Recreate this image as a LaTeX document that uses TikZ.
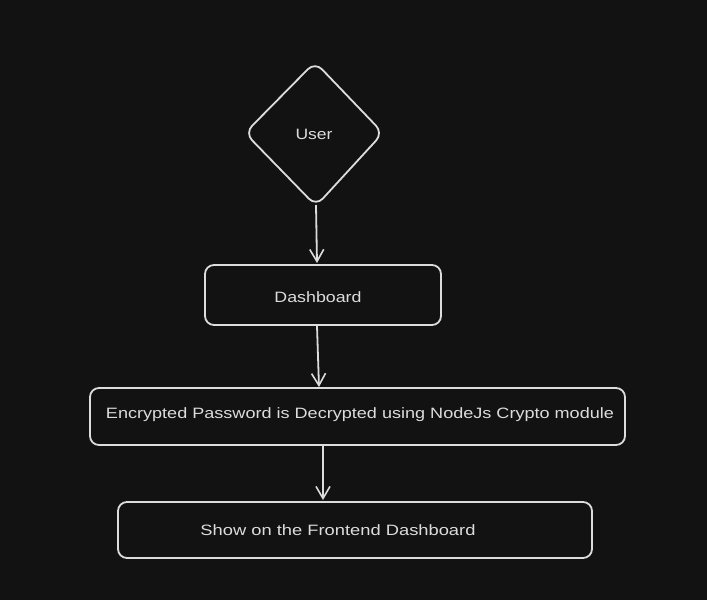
\documentclass[tikz,border=0pt]{standalone}
\usepackage{fontspec}
\setmainfont{Liberation Sans}
\usetikzlibrary{arrows.meta,shapes.geometric}
\definecolor{bg}{HTML}{121212}
\definecolor{ink}{HTML}{DCDCDC}
\begin{document}
\begin{tikzpicture}[x=1pt,y=-1pt,
  box/.style={draw=ink,line width=1.8pt,rounded corners=9pt},
  conn/.style={draw=ink,line width=1.8pt,-{Straight Barb[length=12pt,width=14pt,line width=1.6pt]}},
  lbl/.style={text=ink,font=\fontsize{15}{18}\selectfont,inner sep=0pt}]
\fill[bg] (0,0) rectangle (707,600);
\useasboundingbox (0,0) rectangle (707,600);
% diamond
\draw[draw=ink,line width=1.8pt,rounded corners=10pt] (315,62) -- (383,133) -- (316,206) -- (245,133) -- cycle;
\node[lbl] (user) at (314,134) {\resizebox{37pt}{\height}{User}};
% boxes
\node[box,minimum width=236pt,minimum height=60pt,inner sep=0pt] (dash) at (323,295) {};
\node[lbl] (dashl) at (318,297) {\resizebox{87pt}{\height}{Dashboard}};
\node[box,minimum width=535pt,minimum height=57pt,inner sep=0pt] (enc) at (357.5,416.5) {};
\node[lbl] (encl) at (360,415) {\resizebox{508pt}{\height}{Encrypted Password is Decrypted using NodeJs Crypto module}};
\node[box,minimum width=474pt,minimum height=56pt,inner sep=0pt] (show) at (355,530) {};
\node[lbl] (showl) at (338,530) {\resizebox{275pt}{\height}{Show on the Frontend Dashboard}};
% connectors
\coordinate (a1s) at (316,205);
\coordinate (a1e) at (317,263);
\draw[conn] (a1s) -- (a1e);
\coordinate (a2s) at (317,326);
\coordinate (a2e) at (319,387);
\draw[conn] (a2s) -- (a2e);
\coordinate (a3s) at (323,446);
\coordinate (a3e) at (323,500);
\draw[conn] (a3s) -- (a3e);
\end{tikzpicture}
\end{document}
